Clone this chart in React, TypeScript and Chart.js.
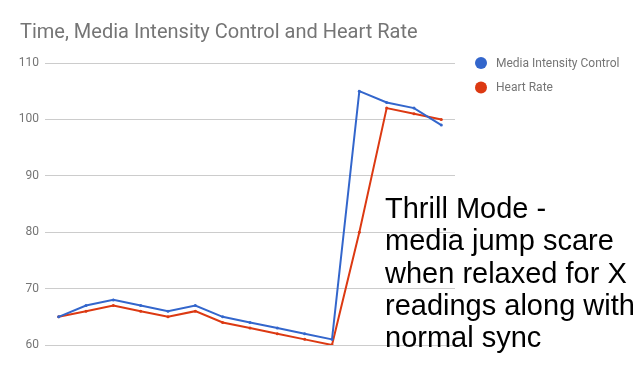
import React, { useEffect, useRef } from "react";
import { Chart, registerables } from "chart.js";

Chart.register(...registerables);

const TITLE = "Time, Media Intensity Control and Heart Rate";
const TIMES = ["1", "2", "3", "4", "5", "6", "7", "8", "9", "10", "11", "12", "13", "14", "15"];
const MEDIA_INTENSITY = [65, 67, 68, 67, 66, 67, 65, 64, 63, 62, 61, 105, 103, 102, 99];
const HEART_RATE = [65, 66, 67, 66, 65, 66, 64, 63, 62, 61, 60, 80, 102, 101, 100];
const Y_TICKS = [60, 70, 80, 90, 100, 110];
const NOTE_LINES = ["Thrill Mode -", "media jump scare", "when relaxed for X", "readings along with", "normal sync"];

const BLUE = "#3366cc";
const RED = "#dc3912";
const GRAY = "#757575";

const titleLegendPlugin = {
  id: "titleLegend",
  afterDraw(chart: any) {
    const ctx = chart.ctx;
    ctx.save();
    ctx.fillStyle = GRAY;
    ctx.font = "20px Roboto";
    ctx.textAlign = "left";
    ctx.textBaseline = "alphabetic";
    ctx.fillText(TITLE, 20, 38);
    ctx.font = "12px Roboto";
    ctx.textBaseline = "middle";
    chart.data.datasets.forEach((ds: any, i: number) => {
      const cy = 63 + i * 24.5;
      ctx.beginPath();
      ctx.arc(481, cy, 6, 0, Math.PI * 2);
      ctx.fillStyle = ds.borderColor;
      ctx.fill();
      ctx.fillStyle = GRAY;
      ctx.fillText(ds.label, 496, cy + 0.5);
    });
    ctx.restore();
  },
};

export default function App() {
  const ref = useRef<HTMLCanvasElement | null>(null);
  useEffect(() => {
    document.body.style.margin = "0";
    const chart = new Chart(ref.current as HTMLCanvasElement, {
      type: "line",
      data: {
        labels: TIMES,
        datasets: [
          {
            label: "Media Intensity Control",
            data: MEDIA_INTENSITY,
            borderColor: BLUE,
            backgroundColor: BLUE,
            borderWidth: 2,
            pointRadius: 1.5,
            pointBorderWidth: 0,
            pointHoverRadius: 1.5,
            tension: 0,
          },
          {
            label: "Heart Rate",
            data: HEART_RATE,
            borderColor: RED,
            backgroundColor: RED,
            borderWidth: 2,
            pointRadius: 1.5,
            pointBorderWidth: 0,
            pointHoverRadius: 1.5,
            tension: 0,
          },
        ],
      },
      options: {
        animation: false,
        responsive: false,
        maintainAspectRatio: false,
        layout: { padding: { left: 0, right: 184, top: 63, bottom: 26 } },
        plugins: {
          legend: { display: false },
          title: { display: false },
          tooltip: { enabled: false },
        },
        scales: {
          x: {
            type: "category",
            offset: true,
            display: false,
          },
          y: {
            min: 60,
            max: 110,
            afterFit(scale: any) {
              scale.width = 45;
            },
            afterBuildTicks(scale: any) {
              scale.ticks = Y_TICKS.map((v) => ({ value: v }));
            },
            border: { display: false },
            grid: { color: "#cccccc", drawTicks: false, lineWidth: 1 },
            ticks: {
              color: GRAY,
              padding: 6,
              font: { family: "Roboto", size: 12 },
            },
          },
        },
      },
      plugins: [titleLegendPlugin],
    });
    return () => chart.destroy();
  }, []);

  return (
    <div style={{ position: "relative", width: 639, height: 371, background: "#fff" }}>
      <canvas ref={ref} width={639} height={371} style={{ display: "block" }} />
      <div
        style={{
          position: "absolute",
          left: 385,
          top: 192,
          fontFamily: "'Liberation Sans', Arial, sans-serif",
          fontSize: 29,
          lineHeight: "32.3px",
          color: "#000",
          whiteSpace: "pre",
        }}
      >
        {NOTE_LINES.join("\n")}
      </div>
    </div>
  );
}
